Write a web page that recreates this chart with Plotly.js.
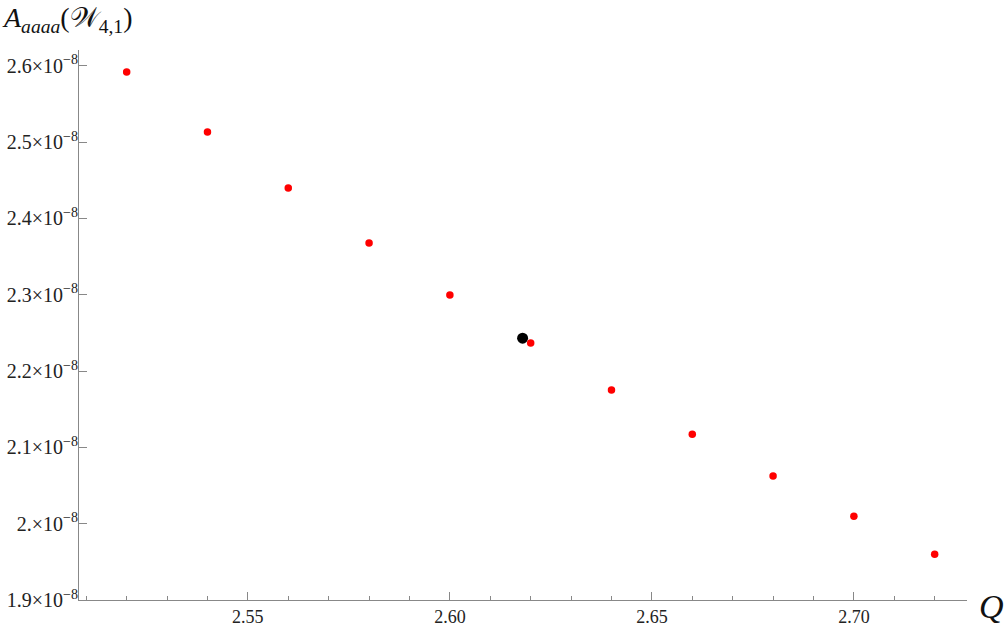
<!DOCTYPE html>
<html>
<head>
<meta charset="utf-8">
<script src="https://cdn.plot.ly/plotly-3.0.1.min.js"></script>
<style>
  html, body { margin: 0; padding: 0; background: #fff; }
  #chart { width: 1007px; height: 627px; }
</style>
</head>
<body>
<div id="chart"></div>
<script>
// Data
var q_vals = [2.52, 2.54, 2.56, 2.58, 2.60, 2.62, 2.64, 2.66, 2.68, 2.70, 2.72];
var a_vals = [2.5917e-8, 2.5131e-8, 2.4397e-8, 2.3676e-8, 2.2995e-8, 2.2366e-8,
              2.1750e-8, 2.1173e-8, 2.0623e-8, 2.0098e-8, 1.9600e-8];
var q_mark = [2.618];
var a_mark = [2.2431e-8];

var y_ticks = [1.9e-8, 2.0e-8, 2.1e-8, 2.2e-8, 2.3e-8, 2.4e-8, 2.5e-8, 2.6e-8];
var y_ticktext = ["1.9", "2.", "2.1", "2.2", "2.3", "2.4", "2.5", "2.6"].map(function (m) {
  return m + "×10<sup>−8</sup>";
});

var serif = "Liberation Serif, Times New Roman, serif";
var y_range = [1.9e-8, 2.6206e-8];

// black point on y, red points on the overlay axis y2 so they sit on top
var traces = [
  {x: q_mark, y: a_mark, mode: "markers", type: "scatter",
   marker: {color: "black", size: 11}},
  {x: q_vals, y: a_vals, mode: "markers", type: "scatter", yaxis: "y2",
   marker: {color: "#ff0000", size: 7.5}}
];

var layout = {
  width: 1007, height: 627,
  margin: {l: 79, r: 40, t: 50, b: 27},
  paper_bgcolor: "#fff", plot_bgcolor: "#fff",
  showlegend: false,
  xaxis: {
    range: [2.5082, 2.728],
    tickmode: "linear", tick0: 2.5, dtick: 0.05, tickformat: ".2f",
    ticks: "inside", ticklen: 8, tickwidth: 1, tickcolor: "#888",
    minor: {dtick: 0.01, tick0: 2.5, ticks: "inside", ticklen: 4, tickcolor: "#888"},
    showline: true, linecolor: "#888", linewidth: 1,
    showgrid: false, zeroline: false,
    tickfont: {family: serif, size: 18, color: "#222"}
  },
  // labels only
  yaxis: {
    range: y_range,
    tickmode: "array", tickvals: y_ticks, ticktext: y_ticktext,
    showgrid: false, zeroline: false,
    tickfont: {family: serif, size: 20, color: "#222"}
  },
  // line and tick marks only
  yaxis2: {
    range: y_range, overlaying: "y", side: "left", anchor: "x",
    tickmode: "linear", tick0: 1.9e-8, dtick: 0.1e-8,
    showticklabels: false,
    ticks: "inside", ticklen: 8, tickwidth: 1, tickcolor: "#888",
    minor: {dtick: 0.02e-8, tick0: 1.9e-8, ticks: "inside", ticklen: 4, tickcolor: "#888"},
    showline: true, linecolor: "#888", linewidth: 1,
    showgrid: false, zeroline: false
  },
  annotations: [
    {xref: "paper", yref: "paper", x: 1.011, y: -0.012, xanchor: "left", yanchor: "middle",
     text: "<i>Q</i>", showarrow: false,
     font: {family: serif, size: 34, color: "#111"}},
    {xref: "paper", yref: "paper", x: -0.089, y: 1.02, xanchor: "left", yanchor: "bottom",
     text: "<i>A</i><sub><i>aaaa</i></sub>(𝒲<sub>4,1</sub>)", showarrow: false,
     font: {family: serif, size: 28, color: "#111"}}
  ]
};

Plotly.newPlot("chart", traces, layout, {displayModeBar: false, staticPlot: true});
</script>
</body>
</html>
